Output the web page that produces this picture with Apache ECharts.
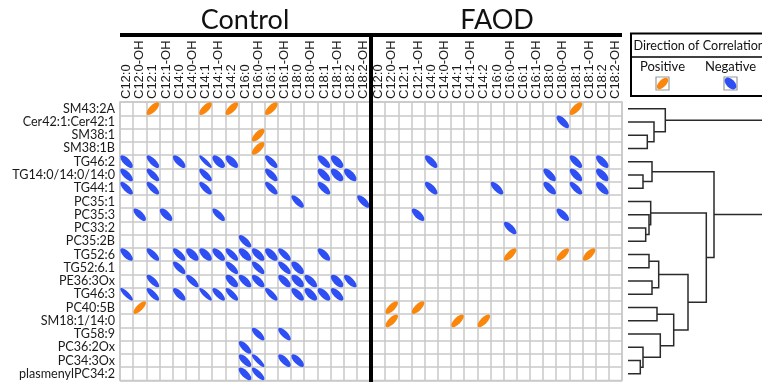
<!DOCTYPE html>
<html><head><meta charset="utf-8">
<script src="https://cdn.jsdelivr.net/npm/echarts/dist/echarts.min.js"></script>
<style>html,body{margin:0;padding:0;background:#fff}#c{width:762px;height:382px}</style>
</head><body><div id="c"></div>
<script>
// ---------- data ----------
const panelTitles = ['Control', 'FAOD'];
const columns = ['C12:0','C12:0-OH','C12:1','C12:1-OH','C14:0','C14:0-OH','C14:1','C14:1-OH','C14:2',
  'C16:0','C16:0-OH','C16:1','C16:1-OH','C18:0','C18:0-OH','C18:1','C18:1-OH','C18:2','C18:2-OH'];
const rows = ['SM43:2A','Cer42:1:Cer42:1','SM38:1','SM38:1B','TG46:2','TG14:0/14:0/14:0','TG44:1','PC35:1',
  'PC35:3','PC33:2','PC35:2B','TG52:6','TG52:6.1','PE36:3Ox','TG46:3','PC40:5B','SM18:1/14:0','TG58:9',
  'PC36:2Ox','PC34:3Ox','plasmenylPC34:2'];
// [column index, row index, correlation r]
const controlCells = [
  [2,0,.7],[6,0,.7],[8,0,.7],[11,0,.7],
  [10,2,.7],[10,3,.7],
  [0,4,-.72],[2,4,-.75],[4,4,-.72],[6,4,-.88],[7,4,-.62],[8,4,-.65],[11,4,-.75],[15,4,-.7],[16,4,-.62],
  [0,5,-.72],[2,5,-.75],[6,5,-.75],[11,5,-.72],[15,5,-.68],[16,5,-.62],[17,5,-.65],
  [0,6,-.75],[2,6,-.75],[6,6,-.75],[11,6,-.75],[15,6,-.72],
  [13,7,-.75],[18,7,-.72],
  [1,8,-.72],[3,8,-.68],[7,8,-.75],
  [9,10,-.72],
  [0,11,-.7],[2,11,-.75],[4,11,-.75],[5,11,-.65],[6,11,-.65],[7,11,-.68],[8,11,-.75],[9,11,-.65],[10,11,-.68],[11,11,-.65],[12,11,-.75],[15,11,-.7],
  [4,12,-.75],[8,12,-.75],[10,12,-.75],[12,12,-.75],[13,12,-.65],
  [2,13,-.75],[5,13,-.75],[8,13,-.65],[9,13,-.7],[10,13,-.7],[12,13,-.68],[13,13,-.62],[14,13,-.7],[16,13,-.65],[17,13,-.72],
  [0,14,-.85],[2,14,-.78],[4,14,-.72],[6,14,-.85],[7,14,-.75],[8,14,-.78],[11,14,-.78],[13,14,-.7],[14,14,-.65],[15,14,-.68],[16,14,-.7],
  [1,15,.75],
  [10,17,-.75],[12,17,-.75],
  [9,18,-.72],
  [9,19,-.72],[10,19,-.85],[12,19,-.72],[13,19,-.7],
  [9,20,-.72],[10,20,-.78]
];
const faodCells = [
  [15,0,.7],
  [14,1,-.7],
  [4,4,-.72],[15,4,-.72],[17,4,-.68],
  [13,5,-.7],[15,5,-.7],[17,5,-.65],
  [4,6,-.72],[9,6,-.72],[13,6,-.7],[15,6,-.75],[17,6,-.68],
  [3,8,-.7],[14,8,-.7],
  [10,9,-.72],
  [10,11,.72],[14,11,.72],[16,11,.7],
  [1,15,.72],[3,15,.72],
  [1,16,.72],[6,16,.72],[8,16,.72]
];
// dendrogram linkage (nodes 0..20 are rows, new nodes numbered from 21)
const linkLeft   = [2, 1, 0, 5, 4, 9, 8, 7, 11, 13, 29, 15, 19, 18, 17, 32, 31, 28, 25, 23];
const linkRight  = [3, 21, 22, 6, 24, 10, 26, 27, 12, 14, 30, 16, 20, 33, 34, 35, 36, 37, 38, 39];
const linkHeight = [19.3, 26, 37.3, 15, 24, 17.7, 21, 22.7, 21, 24, 30.7, 29, 12.3, 15, 32.3, 45.7, 60, 78.3, 86, 170];
const legendLabels = ['Direction of Correlation', 'Positive', 'Negative'];

// ---------- styling ----------
const POS = '#fa870c', NEG = '#2e4ff4';
const GRIDC = '#c9c9c9';
const LABEL_FONT = 'Lato';
const gridTop = 102, gridBottom = 1.5;

function ellipse(cx, cy, a, b, positive) {
  return { type: 'circle', shape: { cx: 0, cy: 0, r: 1 }, x: cx, y: cy, scaleX: a, scaleY: b,
    rotation: positive ? Math.PI / 4 : -Math.PI / 4, style: { fill: positive ? POS : NEG } };
}
function ellipseItem(params, api) {
  const c = api.coord([api.value(0), api.value(1)]);
  const s = api.size([1, 1]);
  const r = api.value(2);
  const k = 0.48 * Math.min(s[0], s[1]);
  return ellipse(c[0], c[1], k * Math.sqrt(1 + Math.abs(r)), k * Math.sqrt(1 - Math.abs(r)), r > 0);
}
function colLabelItem(params, api) {
  const i = api.value(0);
  const c = api.coord([i, 0]);
  const s = api.size([1, 1]);
  return { type: 'text', x: c[0], y: c[1] - s[1] / 2 - 3, rotation: Math.PI / 2,
    style: { text: columns[i], font: '13px "Liberation Sans"', fill: '#1a1a1a',
      align: 'left', verticalAlign: 'middle', textAlign: 'left', textVerticalAlign: 'middle' } };
}
const colLabelData = columns.map((c, i) => [i, 0]);

// dendrogram geometry from linkage
const nLeaf = rows.length;
const nodeH = [], nodePos = [];
for (let i = 0; i < nLeaf; i++) { nodeH[i] = 0; nodePos[i] = i; }
linkLeft.forEach((l, j) => {
  nodeH[nLeaf + j] = linkHeight[j];
  nodePos[nLeaf + j] = (nodePos[l] + nodePos[linkRight[j]]) / 2;
});
const dendroData = linkLeft.map((l, j) => {
  const r = linkRight[j];
  return [nodeH[l], nodePos[l], linkHeight[j], nodePos[r], nodeH[r]];
});

const panelGrids = [
  { left: 120, right: 392, top: gridTop, bottom: gridBottom },
  { left: 372, right: 140, top: gridTop, bottom: gridBottom }
];

function xAx(i) {
  return { gridIndex: i, type: 'category', data: columns, position: 'top', boundaryGap: true,
    axisLine: { show: false }, axisTick: { show: false }, axisLabel: { show: false },
    splitLine: { show: true, interval: 0, lineStyle: { color: GRIDC, width: 1.5 } } };
}
function yAx(i, showLabel) {
  return { gridIndex: i, type: 'category', data: rows, inverse: true, boundaryGap: true,
    axisLine: { show: false }, axisTick: { show: false },
    axisLabel: { show: showLabel, interval: 0, margin: 5, fontSize: 12.6, fontFamily: LABEL_FONT, color: '#1a1a1a' },
    splitLine: { show: true, interval: 0, lineStyle: { color: GRIDC, width: 1.5 } } };
}
const TXT = { textAlign: 'center', textVerticalAlign: 'middle', align: 'center', verticalAlign: 'middle' };

const chart = echarts.init(document.getElementById('c'), null, { renderer: 'canvas' });
chart.setOption({
  animation: false,
  backgroundColor: '#fff',
  grid: [
    Object.assign({ show: true, borderColor: GRIDC, borderWidth: 1.5 }, panelGrids[0]),
    Object.assign({ show: true, borderColor: GRIDC, borderWidth: 1.5 }, panelGrids[1]),
    { left: 628, right: 0, top: gridTop, bottom: gridBottom }
  ],
  xAxis: [xAx(0), xAx(1),
    { gridIndex: 2, type: 'value', min: 0, max: 134, show: false }],
  yAxis: [yAx(0, true), yAx(1, false),
    { gridIndex: 2, type: 'value', min: -0.5, max: nLeaf - 0.5, inverse: true, show: false }],
  series: [
    { type: 'custom', xAxisIndex: 0, yAxisIndex: 0, data: controlCells, renderItem: ellipseItem, encode: { x: 0, y: 1 }, silent: true },
    { type: 'custom', xAxisIndex: 1, yAxisIndex: 1, data: faodCells, renderItem: ellipseItem, encode: { x: 0, y: 1 }, silent: true },
    { type: 'custom', xAxisIndex: 0, yAxisIndex: 0, data: colLabelData, renderItem: colLabelItem, encode: { x: 0, y: 1 }, silent: true, clip: false },
    { type: 'custom', xAxisIndex: 1, yAxisIndex: 1, data: colLabelData, renderItem: colLabelItem, encode: { x: 0, y: 1 }, silent: true, clip: false },
    { type: 'custom', xAxisIndex: 2, yAxisIndex: 2, data: dendroData, silent: true,
      encode: { x: [0, 2, 4], y: [1, 3] },
      renderItem: function (params, api) {
        const p = [api.coord([api.value(0), api.value(1)]), api.coord([api.value(2), api.value(1)]),
                   api.coord([api.value(2), api.value(3)]), api.coord([api.value(4), api.value(3)])];
        return { type: 'polyline', shape: { points: p }, style: { stroke: '#2a2a2a', lineWidth: 1.5, fill: 'none' } };
      } }
  ],
  graphic: [
    { type: 'text', z: 100, x: 245, y: 20, style: Object.assign({ text: panelTitles[0], font: '27px Lato', fill: '#111' }, TXT) },
    { type: 'text', z: 100, x: 497, y: 20, style: Object.assign({ text: panelTitles[1], font: '27px Lato', fill: '#111' }, TXT) },
    { type: 'rect', z: 100, shape: { x: 120, y: 33, width: 502, height: 4 }, style: { fill: '#000' } },
    { type: 'rect', z: 100, shape: { x: 369, y: 33, width: 4, height: 350 }, style: { fill: '#000' } },
    // legend
    { type: 'rect', z: 100, shape: { x: 631, y: 33.5, width: 160, height: 62.5 }, style: { fill: '#fff', stroke: '#000', lineWidth: 2 } },
    { type: 'line', z: 100, shape: { x1: 631, y1: 57, x2: 770, y2: 57 }, style: { stroke: '#000', lineWidth: 1.5 } },
    { type: 'text', z: 100, x: 633.5, y: 46, style: { text: legendLabels[0], font: '12.6px Lato', fill: '#111', textVerticalAlign: 'middle', verticalAlign: 'middle' } },
    { type: 'text', z: 100, x: 662.5, y: 67, style: Object.assign({ text: legendLabels[1], font: '13px Lato', fill: '#111' }, TXT) },
    { type: 'text', z: 100, x: 730.5, y: 67, style: Object.assign({ text: legendLabels[2], font: '13px Lato', fill: '#111' }, TXT) },
    { type: 'rect', z: 100, shape: { x: 656, y: 77, width: 13, height: 13 }, style: { fill: '#fff', stroke: '#9a9a9a', lineWidth: 1.2 } },
    { type: 'rect', z: 100, shape: { x: 724, y: 77, width: 13, height: 13 }, style: { fill: '#fff', stroke: '#9a9a9a', lineWidth: 1.2 } },
    Object.assign(ellipse(662.5, 83.5, 7.2, 3.6, true), { z: 101 }),
    Object.assign(ellipse(730.5, 83.5, 7.2, 4.2, false), { z: 101 })
  ]
});
</script></body></html>
